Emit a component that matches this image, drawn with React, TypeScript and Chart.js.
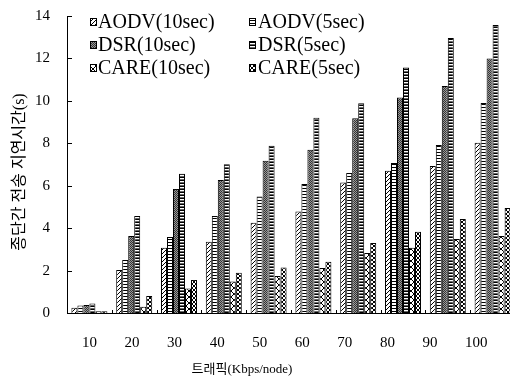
import { useEffect, useRef } from 'react';
import { Chart, registerables } from 'chart.js';

Chart.register(...registerables);

const categories = ['10', '20', '30', '40', '50', '60', '70', '80', '90', '100'];
const categoryValues = [10, 20, 30, 40, 50, 60, 70, 80, 90, 100];
const yTicks = [0, 2, 4, 6, 8, 10, 12, 14];

const seriesLabels = ['AODV(10sec)', 'AODV(5sec)', 'DSR(10sec)', 'DSR(5sec)', 'CARE(10sec)', 'CARE(5sec)'];
const aodv10 = [0.25, 2.03, 3.08, 3.36, 4.26, 4.78, 6.15, 6.71, 6.93, 8.02];
const aodv5 = [0.35, 2.5, 3.58, 4.57, 5.49, 6.08, 6.6, 7.07, 7.92, 9.9];
const dsr10 = [0.38, 3.63, 5.85, 6.27, 7.18, 7.69, 9.18, 10.16, 10.7, 12.0];
const dsr5 = [0.45, 4.57, 6.56, 7.01, 7.88, 9.2, 9.89, 11.57, 12.96, 13.58];
const care10 = [0.08, 0.3, 1.15, 1.48, 1.75, 2.12, 2.83, 3.07, 3.49, 3.63];
const care5 = [0.08, 0.8, 1.56, 1.9, 2.15, 2.42, 3.3, 3.83, 4.43, 4.95];

const xTitle = '트래픽(Kbps/node)';
const yTitle = '종단간 전송 지연시간(s)';
const patternKinds = ['diag', 'horiz', 'stip', 'ladder', 'diamond', 'cross'];

function makePattern(kind: string): CanvasPattern | string {
  const sizes: Record<string, [number, number]> = {
    diag: [4, 4],
    horiz: [4, 3],
    stip: [2, 2],
    ladder: [6, 3],
    diamond: [6, 6],
    cross: [4, 4],
  };
  const [w, h] = sizes[kind];
  const c = document.createElement('canvas');
  c.width = w;
  c.height = h;
  const g = c.getContext('2d');
  if (!g) return '#888';
  g.fillStyle = '#fff';
  g.fillRect(0, 0, w, h);
  g.fillStyle = '#000';
  switch (kind) {
    case 'diag':
      for (let i = 0; i < 4; i++) g.fillRect(i, 3 - i, 1, 1);
      break;
    case 'horiz':
      g.fillRect(0, 2, 4, 1);
      break;
    case 'stip':
      g.fillStyle = '#333';
      g.fillRect(0, 0, 1, 1);
      g.fillRect(1, 1, 1, 1);
      g.fillStyle = '#999';
      g.fillRect(1, 0, 1, 1);
      g.fillRect(0, 1, 1, 1);
      break;
    case 'ladder':
      g.fillRect(0, 0, 6, 1);
      g.fillStyle = '#666';
      g.fillRect(0, 2, 6, 1);
      break;
    case 'diamond':
      for (let i = 0; i < 6; i++) {
        g.fillRect(i, i, 1, 1);
        g.fillRect(i, 5 - i, 1, 1);
      }
      break;
    case 'cross':
      for (let i = 0; i < 4; i++) {
        g.fillRect(i, i, 1, 1);
        g.fillRect(3 - i, i, 1, 1);
      }
      break;
  }
  return g.createPattern(c, 'repeat') || '#888';
}

const legendCols = [90, 249];
const legendTextCols = [98, 258];
const legendRows = [22, 45, 68];

const decorPlugin = {
  id: 'decor',
  afterDraw(chart: any) {
    const { ctx, chartArea: a, scales } = chart;
    const y = scales.y;
    const x = scales.x;
    ctx.save();
    ctx.strokeStyle = '#000';
    ctx.lineWidth = 1;
    // inward y ticks
    yTicks.forEach((v) => {
      const py = Math.round(y.getPixelForValue(v)) + 0.5;
      ctx.beginPath();
      ctx.moveTo(a.left, py);
      ctx.lineTo(a.left + 5, py);
      ctx.stroke();
    });
    // small upward ticks at category boundaries
    for (let i = 0; i <= categories.length; i++) {
      const px = Math.round(x.getPixelForValue(i - 0.5)) + 0.5;
      ctx.beginPath();
      ctx.moveTo(px, a.bottom);
      ctx.lineTo(px, a.bottom - 3);
      ctx.stroke();
    }
    // axis titles
    ctx.fillStyle = '#000';
    ctx.textAlign = 'center';
    ctx.textBaseline = 'middle';
    ctx.font = '13px "Liberation Serif", "Noto Sans CJK KR"';
    ctx.fillText(xTitle, 242, 370);
    ctx.save();
    ctx.translate(20, 172);
    ctx.rotate(-Math.PI / 2);
    ctx.font = '16px "Liberation Serif", "Noto Sans CJK KR"';
    ctx.fillText(yTitle, 0, 0);
    ctx.restore();
    // legend
    ctx.textAlign = 'left';
    ctx.font = '20px "Liberation Serif"';
    chart.data.datasets.forEach((ds: any, i: number) => {
      const col = i % 2;
      const row = Math.floor(i / 2);
      const cy = legendRows[row];
      const ix = legendCols[col];
      ctx.fillStyle = ds.backgroundColor;
      ctx.fillRect(ix, cy - 4, 6, 7);
      ctx.strokeRect(ix + 0.5, cy - 3.5, 6, 7);
      ctx.fillStyle = '#000';
      ctx.fillText(ds.label, legendTextCols[col], cy + 1);
    });
    ctx.restore();
  },
};

export default function App() {
  const ref = useRef<HTMLCanvasElement | null>(null);
  useEffect(() => {
    if (!ref.current) return;
    const series = [aodv10, aodv5, dsr10, dsr5, care10, care5];
    const W = 515;
    const L = 67;
    const a = 39.4;
    const b = 4.256;
    const x2min = (L - a) / b;
    const x2max = (W - a) / b;
    const chart = new Chart(ref.current, {
      type: 'bar',
      data: {
        labels: categories,
        datasets: series.map((d, i) => ({
          label: seriesLabels[i],
          data: d,
          backgroundColor: makePattern(patternKinds[i]) as any,
          borderColor: '#000',
          borderWidth: 1,
          barPercentage: 1,
          categoryPercentage: 0.8036,
        })),
      },
      options: {
        responsive: false,
        maintainAspectRatio: false,
        animation: false,
        devicePixelRatio: 1,
        layout: { padding: { top: 16, left: 0, right: 0, bottom: 0 } },
        plugins: { legend: { display: false }, tooltip: { enabled: false }, title: { display: false } },
        scales: {
          x: {
            type: 'category',
            position: 'bottom',
            weight: 0,
            grid: { display: false, drawTicks: false },
            border: { display: true, color: '#000', width: 1 },
            ticks: { display: false },
            afterFit: (s: any) => {
              s.height = 0;
            },
          },
          x2: {
            type: 'linear',
            axis: 'x',
            position: 'bottom',
            weight: 1,
            offset: false,
            bounds: 'data',
            min: x2min,
            max: x2max,
            grid: { display: false, drawTicks: true, tickLength: 21, offset: false },
            border: { display: false },
            afterDataLimits: (s: any) => {
              s.min = x2min;
              s.max = x2max;
            },
            afterBuildTicks: (s: any) => {
              s.ticks = categoryValues.map((v) => ({ value: v }));
              s.min = x2min;
              s.max = x2max;
            },
            ticks: {
              align: 'start',
              padding: 0,
              color: '#000',
              font: { family: '"Liberation Serif"', size: 15 },
              callback: (v: any) => String(v),
            },
            afterFit: (s: any) => {
              s.height = 66;
            },
          },
          y: {
            min: 0,
            max: 14,
            grid: { display: false, drawTicks: true, tickLength: 17 },
            border: { display: true, color: '#000', width: 1 },
            afterBuildTicks: (s: any) => {
              s.ticks = yTicks.map((v) => ({ value: v }));
            },
            ticks: {
              padding: 0,
              color: '#000',
              font: { family: '"Liberation Serif"', size: 15 },
            },
            afterFit: (s: any) => {
              s.width = L;
            },
          },
        } as any,
      },
      plugins: [decorPlugin],
    });
    return () => chart.destroy();
  }, []);
  return (
    <div
      style={{
        position: 'fixed',
        left: 0,
        top: 0,
        width: 510,
        height: 379,
        overflow: 'hidden',
        background: '#fff',
      }}
    >
      <canvas ref={ref} width={515} height={379} style={{ display: 'block', width: 515, height: 379 }} />
    </div>
  );
}
